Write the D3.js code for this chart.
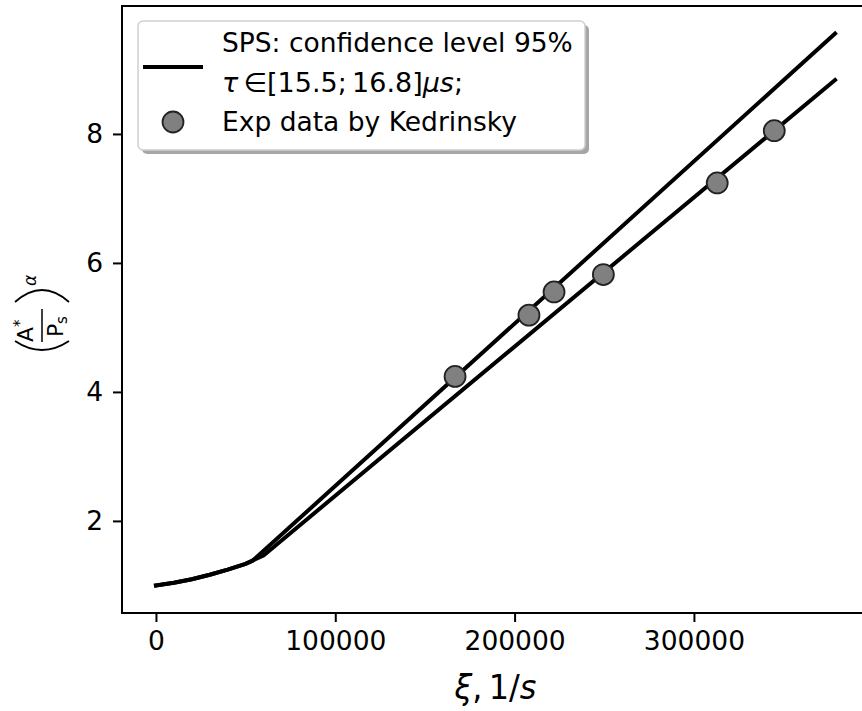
<!DOCTYPE html>
<html>
<head>
<meta charset="utf-8">
<script src="https://cdn.jsdelivr.net/npm/d3@7"></script>
<style>
  html, body { margin: 0; padding: 0; background: #fff; }
  svg { display: block; font-family: "DejaVu Sans", sans-serif; }
</style>
</head>
<body>
<svg id="chart" width="862" height="711"></svg>
<script>
// SPS model curves (upper / lower bound of the 95% band) and measured points
const upperXi = [0, 10000, 20000, 30000, 40000, 50000, 54000, 378700];
const upperY  = [1.0, 1.04, 1.095, 1.165, 1.245, 1.335, 1.385, 9.556];
const lowerXi = [0, 10000, 20000, 30000, 40000, 50000, 60000, 378700];
const lowerY  = [1.0, 1.04, 1.095, 1.165, 1.245, 1.335, 1.465, 8.836];
const expXi   = [166800, 208000, 222000, 249500, 313000, 344800];
const expY    = [4.24, 5.19, 5.55, 5.82, 7.24, 8.05];
const xTicks  = [0, 100000, 200000, 300000];
const yTicks  = [2, 4, 6, 8];

const svg = d3.select("#chart");
const plot = { left: 122, right: 869, top: 6, bottom: 613 };
const FS = 26.5;

// 5% padding on each side of the data range
function padded(values) {
  const [lo, hi] = d3.extent(values);
  const p = (hi - lo) * 0.05;
  return [lo - p, hi + p];
}
const x = d3.scaleLinear()
  .domain(padded(upperXi.concat(lowerXi, expXi)))
  .range([plot.left, plot.right]);
const y = d3.scaleLinear()
  .domain(padded(upperY.concat(lowerY, expY)))
  .range([plot.bottom, plot.top]);

// axes
const xAxis = d3.axisBottom(x).tickValues(xTicks).tickFormat(d3.format("d"))
  .tickSizeInner(9).tickSizeOuter(0).tickPadding(9);
const yAxis = d3.axisLeft(y).tickValues(yTicks).tickFormat(d3.format("d"))
  .tickSizeInner(9).tickSizeOuter(0).tickPadding(10);

const gx = svg.append("g").attr("transform", `translate(0,${plot.bottom})`).call(xAxis);
const gy = svg.append("g").attr("transform", `translate(${plot.left},0)`).call(yAxis);
[gx, gy].forEach(g => {
  g.select(".domain").remove();
  g.selectAll(".tick line").attr("stroke", "#000").attr("stroke-width", 2);
  g.selectAll(".tick text").attr("fill", "#000")
    .attr("font-family", "DejaVu Sans").attr("font-size", FS);
});

// frame
svg.append("rect")
  .attr("x", plot.left).attr("y", plot.top)
  .attr("width", plot.right - plot.left).attr("height", plot.bottom - plot.top)
  .attr("fill", "none").attr("stroke", "#000").attr("stroke-width", 2);

// curves
const line = d3.line().x(d => x(d[0])).y(d => y(d[1]));
svg.append("clipPath").attr("id", "clip").append("rect")
  .attr("x", plot.left).attr("y", plot.top)
  .attr("width", plot.right - plot.left).attr("height", plot.bottom - plot.top);
const plotG = svg.append("g").attr("clip-path", "url(#clip)");
[[upperXi, upperY], [lowerXi, lowerY]].forEach(([xs, ys]) => {
  plotG.append("path")
    .datum(xs.map((v, i) => [v, ys[i]]))
    .attr("d", line)
    .attr("fill", "none").attr("stroke", "#000")
    .attr("stroke-width", 4).attr("stroke-linejoin", "round").attr("stroke-linecap", "square");
});

// measured points
plotG.selectAll("circle.exp")
  .data(expXi.map((v, i) => [v, expY[i]]))
  .join("circle")
  .attr("class", "exp")
  .attr("cx", d => x(d[0])).attr("cy", d => y(d[1]))
  .attr("r", 10.5)
  .attr("fill", "#808080").attr("stroke", "#222").attr("stroke-width", 1.8);

// x label: ξ, 1/s
const xl = svg.append("text")
  .attr("x", (plot.left + plot.right) / 2).attr("y", 699)
  .attr("text-anchor", "middle").attr("font-size", 33).attr("fill", "#000")
  .attr("textLength", 82).attr("lengthAdjust", "spacingAndGlyphs");
xl.append("tspan").attr("font-style", "italic").text("ξ");
xl.append("tspan").text(",\u20091/");
xl.append("tspan").attr("font-style", "italic").text("s");

// y label: (A*/P_s)^α, rotated
const yl = svg.append("g").attr("transform", "translate(42,313) rotate(-90)");
yl.append("path").attr("d", "M-28,-27 Q-46,0 -28,27")
  .attr("fill", "none").attr("stroke", "#000").attr("stroke-width", 1.8);
yl.append("path").attr("d", "M11,-27 Q35,0 11,27")
  .attr("fill", "none").attr("stroke", "#000").attr("stroke-width", 1.8);
yl.append("text").attr("x", -29).attr("y", -9).attr("font-size", 22).text("A");
yl.append("text").attr("x", -14).attr("y", -17).attr("font-size", 15).text("*");
yl.append("line").attr("x1", -29).attr("x2", 4).attr("y1", 0).attr("y2", 0)
  .attr("stroke", "#000").attr("stroke-width", 1.5);
yl.append("text").attr("x", -24).attr("y", 21).attr("font-size", 22).text("P");
yl.append("text").attr("x", -11).attr("y", 25).attr("font-size", 15).text("s");
yl.append("text").attr("x", 27).attr("y", -6).attr("font-size", 17)
  .attr("font-style", "italic").text("α");

// legend
const lg = { x: 138, y: 21, w: 447, h: 129 };
svg.append("rect")
  .attr("x", lg.x + 4).attr("y", lg.y + 4).attr("width", lg.w).attr("height", lg.h)
  .attr("rx", 5).attr("fill", "#4d4d4d").attr("opacity", 0.5);
svg.append("rect")
  .attr("x", lg.x).attr("y", lg.y).attr("width", lg.w).attr("height", lg.h)
  .attr("rx", 5).attr("fill", "#fff").attr("stroke", "#d0d0d0").attr("stroke-width", 1.5);

svg.append("line").attr("x1", 143).attr("x2", 203).attr("y1", 67).attr("y2", 67)
  .attr("stroke", "#000").attr("stroke-width", 4);
svg.append("circle").attr("cx", 173).attr("cy", 122).attr("r", 10.5)
  .attr("fill", "#808080").attr("stroke", "#222").attr("stroke-width", 1.8);

const tx = 222;
svg.append("text").attr("x", tx).attr("y", 52).attr("font-size", FS).attr("fill", "#000")
  .text("SPS: confidence level 95%");
const t2 = svg.append("text").attr("x", tx).attr("y", 92).attr("font-size", FS).attr("fill", "#000")
  .attr("textLength", 241).attr("lengthAdjust", "spacingAndGlyphs");
t2.append("tspan").attr("font-style", "italic").text("τ");
t2.append("tspan").text("\u2009∈[15.5;\u200916.8]");
t2.append("tspan").attr("font-style", "italic").text("μs");
t2.append("tspan").text(";");
svg.append("text").attr("x", tx).attr("y", 131).attr("font-size", FS).attr("fill", "#000")
  .text("Exp data by Kedrinsky");
</script>
</body>
</html>
